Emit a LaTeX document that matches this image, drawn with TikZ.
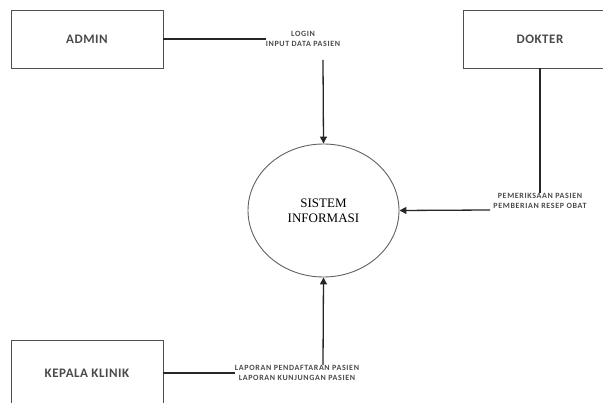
\documentclass[tikz,border=0pt]{standalone}
\usepackage{fontspec}
\setmainfont{Liberation Serif}
\newfontfamily\boxfont[BoldFont={Carlito Bold}, LetterSpace=4]{Carlito}
\newfontfamily\labfont[BoldFont={Carlito Bold}, LetterSpace=8]{Carlito}
\usetikzlibrary{shapes.geometric,arrows.meta}
\definecolor{boxline}{HTML}{505050}
\definecolor{boxtext}{HTML}{4A4A4A}
\definecolor{ellline}{HTML}{606060}
\tikzset{
  entity/.style={draw=boxline, line width=0.9pt, rectangle, minimum width=152pt, inner sep=0pt,
    font=\boxfont\bfseries\fontsize{13}{16}\selectfont, text=boxtext},
  proc/.style={draw=ellline, line width=0.9pt, ellipse, minimum width=151pt, minimum height=133pt, inner sep=0pt,
    font=\fontsize{13}{15}\selectfont, align=center},
  flowlabel/.style={font=\labfont\bfseries\fontsize{8}{10.5}\selectfont, text=boxtext, align=center, inner sep=0pt},
  flow/.style={line width=1.3pt, draw=black!85},
  arr/.style={flow, -{Triangle[length=7pt,width=7pt]}}
}
\begin{document}
\begin{tikzpicture}[x=1pt,y=-1pt]
\useasboundingbox (0,0) rectangle (603,403);
\node[entity, minimum height=58pt] (admin) at (87,39) {ADMIN};
\node[entity, minimum width=140pt, minimum height=58pt] (dokter) at (533,39) {\hspace*{14pt}DOKTER};
\node[entity, minimum height=66pt] (kepala) at (87,373) {KEPALA KLINIK};
\node[proc] (sys) at (323.5,210.5) {SISTEM\\INFORMASI};
\node[flowlabel] (l1) at (303,39) {LOGIN\\INPUT DATA PASIEN};
\node[flowlabel] (l2) at (540,201) {PEMERIKSAAN PASIEN\\PEMBERIAN RESEP OBAT};
\node[flowlabel] (l3) at (297,373) {LAPORAN PENDAFTARAN PASIEN\\LAPORAN KUNJUNGAN PASIEN};
\coordinate (c1) at (323,60);
\coordinate (c2) at (490,210);
\coordinate (c3) at (323,365);
\draw[flow] (admin.east) -- (l1.west);
\draw[arr] (c1) -- (sys.north);
\draw[flow] (dokter.south -| l2.north) -- (l2.north);
\draw[arr] (c2) -- (sys.east);
\draw[flow] (kepala.east) -- (l3.west);
\draw[arr] (c3) -- (sys.south);
\end{tikzpicture}
\end{document}
